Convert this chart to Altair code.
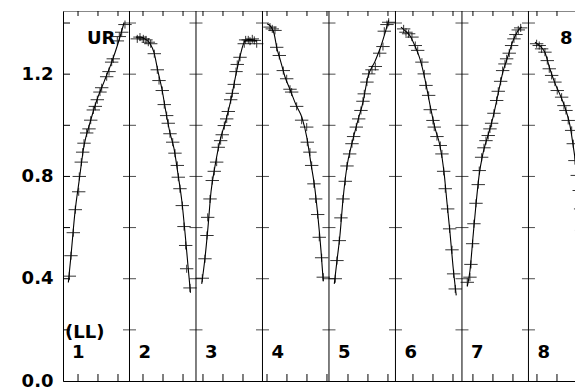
import altair as alt
import pandas as pd

# ---------------- data (phase within each panel, value) ----------------
mk = {
    1: ([0.095, 0.120, 0.155, 0.185, 0.236, 0.245, 0.275, 0.296, 0.316, 0.356, 0.391, 0.417, 0.456,
         0.486, 0.516, 0.556, 0.582, 0.657, 0.692, 0.732, 0.756, 0.817, 0.847, 0.883, 0.932],
        [0.41, 0.49, 0.58, 0.67, 0.74, 0.80, 0.856, 0.895, 0.93, 0.97, 0.986, 1.02, 1.06,
         1.074, 1.10, 1.13, 1.147, 1.19, 1.21, 1.247, 1.26, 1.33, 1.347, 1.364, 1.394]),
    2: ([0.117, 0.158, 0.208, 0.248, 0.283, 0.319, 0.373, 0.418, 0.444, 0.493, 0.523, 0.559, 0.583,
         0.609, 0.650, 0.684, 0.719, 0.734, 0.759, 0.794, 0.820, 0.845, 0.860, 0.910],
        [1.338, 1.345, 1.338, 1.334, 1.325, 1.319, 1.28, 1.217, 1.175, 1.136, 1.081, 1.038, 1.008,
         0.967, 0.934, 0.891, 0.843, 0.797, 0.752, 0.686, 0.604, 0.53, 0.439, 0.364]),
    3: ([0.095, 0.135, 0.165, 0.176, 0.211, 0.245, 0.275, 0.311, 0.335, 0.371, 0.395, 0.426, 0.462,
         0.486, 0.522, 0.546, 0.576, 0.602, 0.621, 0.662, 0.726, 0.747, 0.786, 0.812, 0.847, 0.877, 0.913],
        [0.402, 0.478, 0.569, 0.64, 0.712, 0.784, 0.82, 0.856, 0.914, 0.94, 0.963, 0.999, 1.025,
         1.054, 1.10, 1.125, 1.16, 1.21, 1.238, 1.266, 1.319, 1.334, 1.334, 1.329, 1.338, 1.332, 1.319]),
    4: ([0.113, 0.147, 0.188, 0.214, 0.253, 0.313, 0.364, 0.414, 0.439, 0.514, 0.589, 0.665, 0.674,
         0.714, 0.740, 0.774, 0.800, 0.830, 0.854, 0.890, 0.914],
        [1.384, 1.377, 1.371, 1.305, 1.273, 1.214, 1.182, 1.141, 1.13, 1.074, 1.02, 0.993, 0.934,
         0.895, 0.843, 0.771, 0.712, 0.651, 0.562, 0.482, 0.406]),
    5: ([0.095, 0.120, 0.155, 0.180, 0.211, 0.245, 0.271, 0.311, 0.346, 0.371, 0.411, 0.447, 0.481,
         0.511, 0.531, 0.571, 0.597, 0.647, 0.697, 0.763, 0.812, 0.832, 0.872, 0.898],
        [0.40, 0.471, 0.549, 0.638, 0.712, 0.781, 0.841, 0.888, 0.928, 0.956, 0.993, 1.025, 1.058,
         1.094, 1.123, 1.169, 1.201, 1.217, 1.23, 1.282, 1.308, 1.368, 1.394, 1.403]),
    6: ([0.123, 0.158, 0.198, 0.248, 0.298, 0.334, 0.398, 0.433, 0.459, 0.499, 0.523, 0.564, 0.583,
         0.624, 0.674, 0.699, 0.725, 0.749, 0.785, 0.815, 0.850, 0.875, 0.899],
        [1.377, 1.364, 1.358, 1.345, 1.312, 1.293, 1.247, 1.201, 1.156, 1.117, 1.061, 1.019, 0.993,
         0.956, 0.921, 0.888, 0.82, 0.752, 0.673, 0.595, 0.513, 0.419, 0.36]),
    7: ([0.080, 0.120, 0.135, 0.161, 0.180, 0.211, 0.245, 0.260, 0.296, 0.331, 0.361, 0.395, 0.421,
         0.446, 0.481, 0.522, 0.546, 0.582, 0.612, 0.647, 0.672, 0.711, 0.747, 0.782, 0.812, 0.847, 0.883],
        [0.386, 0.406, 0.456, 0.537, 0.615, 0.695, 0.768, 0.823, 0.875, 0.912, 0.94, 0.96, 0.986,
         1.008, 1.047, 1.097, 1.133, 1.172, 1.214, 1.24, 1.26, 1.282, 1.312, 1.338, 1.355, 1.373, 1.381]),
    8: ([0.123, 0.162, 0.198, 0.248, 0.283, 0.313, 0.349, 0.398, 0.433, 0.499, 0.534, 0.564, 0.598,
         0.650, 0.674, 0.699, 0.734, 0.764, 0.785, 0.800, 0.815, 0.850, 0.890],
        [1.319, 1.312, 1.299, 1.286, 1.253, 1.221, 1.195, 1.169, 1.136, 1.11, 1.077, 1.058, 1.019,
         0.98, 0.928, 0.862, 0.804, 0.745, 0.673, 0.589, 0.497, 0.42, 0.36]),
}

fit = {
    1: ([0.080, 0.120, 0.180, 0.241, 0.316, 0.406, 0.511, 0.617, 0.737, 0.827, 0.917],
        [0.385, 0.49, 0.66, 0.78, 0.92, 1.01, 1.10, 1.17, 1.25, 1.32, 1.40]),
    2: ([0.098, 0.173, 0.248, 0.308, 0.368, 0.429, 0.489, 0.549, 0.609, 0.669, 0.729, 0.789, 0.835, 0.880, 0.917],
        [1.345, 1.345, 1.335, 1.32, 1.285, 1.21, 1.14, 1.05, 0.97, 0.91, 0.81, 0.70, 0.58, 0.45, 0.345]),
    3: ([0.086, 0.135, 0.180, 0.226, 0.286, 0.361, 0.451, 0.526, 0.602, 0.662, 0.737, 0.812, 0.917],
        [0.38, 0.48, 0.60, 0.74, 0.84, 0.94, 1.02, 1.10, 1.20, 1.27, 1.33, 1.335, 1.33]),
    4: ([0.068, 0.128, 0.173, 0.218, 0.263, 0.338, 0.414, 0.504, 0.594, 0.669, 0.729, 0.789, 0.835, 0.880, 0.914],
        [1.397, 1.385, 1.36, 1.30, 1.26, 1.19, 1.14, 1.08, 1.03, 0.95, 0.85, 0.75, 0.64, 0.51, 0.39]),
    5: ([0.080, 0.120, 0.165, 0.211, 0.271, 0.346, 0.436, 0.511, 0.586, 0.692, 0.782, 0.842, 0.898],
        [0.38, 0.47, 0.57, 0.71, 0.84, 0.93, 1.02, 1.09, 1.19, 1.25, 1.31, 1.36, 1.41]),
    6: ([0.083, 0.143, 0.218, 0.293, 0.368, 0.444, 0.519, 0.594, 0.669, 0.729, 0.774, 0.820, 0.865, 0.914],
        [1.384, 1.37, 1.35, 1.31, 1.26, 1.18, 1.08, 0.99, 0.92, 0.82, 0.70, 0.58, 0.45, 0.335]),
    7: ([0.080, 0.120, 0.165, 0.211, 0.256, 0.316, 0.391, 0.466, 0.541, 0.617, 0.692, 0.767, 0.842, 0.898],
        [0.37, 0.43, 0.56, 0.69, 0.80, 0.89, 0.96, 1.03, 1.12, 1.21, 1.27, 1.33, 1.37, 1.385]),
    8: ([0.098, 0.173, 0.248, 0.323, 0.398, 0.474, 0.549, 0.624, 0.684, 0.744, 0.789, 0.820, 0.850, 0.895],
        [1.325, 1.31, 1.285, 1.22, 1.165, 1.12, 1.07, 1.00, 0.90, 0.78, 0.66, 0.50, 0.42, 0.35]),
}

panel_labels = ["1", "2", "3", "4", "5", "6", "7", "8"]
y_label_values = [0.0, 0.4, 0.8, 1.2]
y_tick_values = [0.2, 0.4, 0.6, 0.8, 1.0, 1.2, 1.4]
x_tick_values = [0.226, 0.526, 0.827, 1.203, 1.504, 1.805, 2.105, 2.406, 2.707, 3.068, 3.368, 3.669,
                 3.970, 4.286, 4.586, 4.887, 5.263, 5.564, 5.865, 6.165, 6.466, 6.767, 7.128, 7.429, 7.729]
dividers = [1, 2, 3, 4, 5, 6, 7]
x_visible_max = 7.7   # the visible part of the 8-panel strip

# ---------------- tables ----------------
mk_df = pd.DataFrame([{"panel": p, "phase": ph, "value": v}
                      for p, (phs, vs) in mk.items() for ph, v in zip(phs, vs)])
fit_df = pd.DataFrame([{"panel": p, "phase": ph, "value": v}
                       for p, (phs, vs) in fit.items() for ph, v in zip(phs, vs)])
lab_df = pd.DataFrame({"panel": list(range(1, 9)), "label": panel_labels})
div_df = pd.DataFrame({"x": dividers})
cross_df = pd.DataFrame([{"x": d, "y": y} for d in dividers for y in y_tick_values])
ytk_df = pd.DataFrame({"y": y_tick_values})
xtk_df = pd.DataFrame({"x": x_tick_values})

W, H = 512, 370
FONT = "DejaVu Sans"
xs = alt.Scale(domain=[0, x_visible_max], nice=False, zero=False)
ys = alt.Scale(domain=[0, 1.447], nice=False, zero=False)

AY = alt.Axis(values=y_label_values, format=".1f", ticks=False, grid=False,
              labelFont=FONT, labelFontWeight="bold", labelFontSize=18,
              labelColor="black", labelPadding=10, domainColor="black",
              domainWidth=1, title=None, labelOverlap=False, labelFlush=False)
AX = alt.Axis(ticks=False, labels=False, grid=False, domainColor="black",
              domainWidth=1, title=None)

X = lambda f: alt.X(f, scale=xs, axis=AX)
Y = lambda f: alt.Y(f, scale=ys, axis=AY)

line = alt.Chart(fit_df).transform_calculate(
    gx="datum.panel - 1 + datum.phase"
).mark_line(color="black", strokeWidth=1.1, interpolate="monotone", clip=True).encode(
    x=X("gx:Q"), y=Y("value:Q"), detail="panel:N",
)

pts = alt.Chart(mk_df).transform_calculate(
    gx="datum.panel - 1 + datum.phase"
).mark_point(shape="M-1,0L1,0M0,-0.6L0,0.6", size=180, filled=False,
             stroke="black", strokeWidth=1, opacity=0.8, clip=True).encode(
    x=X("gx:Q"), y=Y("value:Q"),
)

divs = alt.Chart(div_df).mark_rule(color="black", strokeWidth=1).encode(
    x=X("x:Q"), y=alt.value(0), y2=alt.value(H),
)

cross = alt.Chart(cross_df).mark_tick(orient="horizontal", size=13, thickness=1,
                                      color="black", clip=True).encode(
    x=X("x:Q"), y=Y("y:Q"),
)

left_ticks = alt.Chart(ytk_df).mark_rule(color="black", strokeWidth=1).encode(
    x=alt.value(0), x2=alt.value(7), y=Y("y:Q"),
)

bottom_ticks = alt.Chart(xtk_df).mark_rule(color="black", strokeWidth=1).encode(
    x=X("x:Q"), y=alt.value(H), y2=alt.value(H - 7),
)

top_ticks = alt.Chart(xtk_df).mark_rule(color="black", strokeWidth=1).encode(
    x=X("x:Q"), y=alt.value(0), y2=alt.value(5),
)

txt_style = dict(font=FONT, fontWeight="bold", fontSize=18, color="black",
                 align="left", baseline="alphabetic")

plabels = alt.Chart(lab_df).transform_calculate(
    gx="datum.panel - 1"
).mark_text(dx=9, **txt_style).encode(
    x=X("gx:Q"), y=alt.value(347), text="label:N",
)

one = pd.DataFrame({"k": [0]})
t_ur = alt.Chart(one).mark_text(**txt_style).encode(
    x=alt.value(24), y=alt.value(33), text=alt.value("UR"))
t_8 = alt.Chart(one).mark_text(**txt_style).encode(
    x=alt.value(497), y=alt.value(33), text=alt.value("8"))
t_ll = alt.Chart(one).mark_text(**txt_style).encode(
    x=alt.value(2), y=alt.value(327), text=alt.value("(LL)"))

chart = alt.layer(
    line, divs, cross, left_ticks, bottom_ticks, top_ticks, pts, plabels, t_ur, t_8, t_ll
).properties(
    width=W, height=H,
    autosize=alt.AutoSizeParams(type="none"),
    padding={"left": 55, "top": 3, "right": 0, "bottom": 6},
    background="white",
).configure_view(stroke="#888888", strokeWidth=1)

chart.save("out.html", embed_options={"renderer": "svg", "actions": False})
